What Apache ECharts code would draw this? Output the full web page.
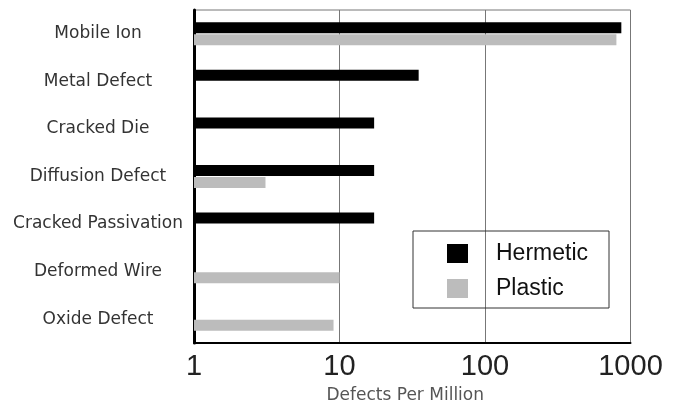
<!DOCTYPE html>
<html>
<head>
<meta charset="utf-8">
<script src="https://cdn.jsdelivr.net/npm/echarts@6/dist/echarts.min.js"></script>
<style>
html,body{margin:0;padding:0;background:#fff;}
#chart{width:680px;height:407px;}
</style>
</head>
<body>
<div id="chart"></div>
<script>
const categories = ["Mobile Ion", "Metal Defect", "Cracked Die", "Diffusion Defect", "Cracked Passivation", "Deformed Wire", "Oxide Defect"];
const hermetic = [865, 35, 17.3, 17.3, 17.3, null, null];
const plastic = [800, null, null, 3.1, null, 10, 9.1];
const seriesNames = ["Hermetic", "Plastic"];
const xTicks = [1, 10, 100, 1000];
const xAxisTitle = "Defects Per Million";

const chart = echarts.init(document.getElementById('chart'), null, {renderer: 'canvas'});
chart.setOption({
  backgroundColor: '#fff',
  animation: false,
  grid: {left: 194, right: 49.5, top: 10, bottom: 64, show: true, borderColor: '#777', borderWidth: 1, containLabel: false, outerBoundsMode: 'none'},
  legend: {
    orient: 'vertical', left: 413, top: 231,
    data: seriesNames,
    icon: 'rect', itemWidth: 21, itemHeight: 19, itemGap: 12,
    borderColor: '#333', borderWidth: 1, padding: [11, 21, 8, 34],
    textStyle: {fontFamily: 'Liberation Sans', fontSize: 23, color: '#111', lineHeight: 19, padding: [0, 0, 0, 23]}
  },
  xAxis: {
    type: 'log', logBase: 10, min: 1, max: 1000,
    name: xAxisTitle, nameLocation: 'middle', nameGap: 44,
    nameTextStyle: {fontFamily: 'DejaVu Sans', fontSize: 17, color: '#555', padding: [0, 14, 0, 0]},
    axisLine: {show: true, lineStyle: {color: '#000', width: 2}},
    axisTick: {show: false},
    axisLabel: {fontFamily: 'Liberation Sans', fontSize: 29, color: '#222', margin: 9,
      formatter: v => xTicks.includes(Math.round(v)) ? String(Math.round(v)) : ''},
    splitLine: {show: true, lineStyle: {color: '#777', width: 1}},
    minorTick: {show: false}
  },
  yAxis: {
    type: 'category', data: categories, inverse: true,
    axisLine: {show: true, lineStyle: {color: '#000', width: 3}},
    axisTick: {show: false},
    axisLabel: {fontFamily: 'DejaVu Sans', fontSize: 17, color: '#333', align: 'center', margin: 96},
    splitLine: {show: false}
  },
  series: [
    {name: seriesNames[0], type: 'bar', data: hermetic, barWidth: 11, barGap: '10%', itemStyle: {color: '#000'}},
    {name: seriesNames[1], type: 'bar', data: plastic, barWidth: 11, barGap: '10%', itemStyle: {color: '#bcbcbc'}}
  ]
});
</script>
</body>
</html>
